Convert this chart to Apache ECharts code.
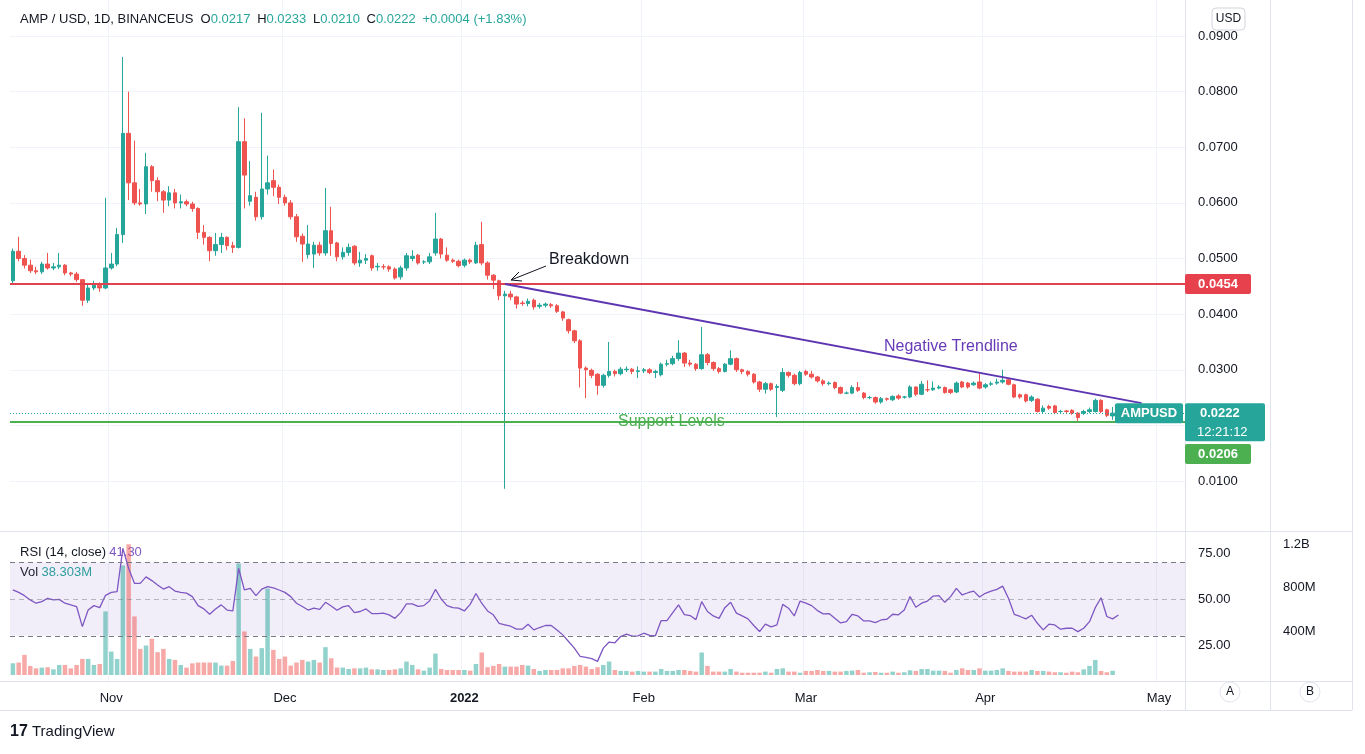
<!DOCTYPE html>
<html><head><meta charset="utf-8">
<script src="https://cdn.jsdelivr.net/npm/echarts@6/dist/echarts.min.js"></script>
<style>html,body{margin:0;padding:0;background:#fff}#c{width:1365px;height:754px}</style>
</head><body><div id="c"></div>
<script>
const OPEN=[.0460,.0513,.0500,.0488,.0478,.0476,.0490,.0483,.0485,.0488,.0474,.0472,.0462,.0425,.0447,.0452,.0447,.0483,.0490,.0543,.0725,.0636,.0600,.0598,.0665,.0640,.0620,.0605,.0618,.0600,.0602,.0598,.0590,.0547,.0538,.0514,.0525,.0538,.0523,.0520,.0710,.0603,.0610,.0575,.0625,.0640,.0628,.0610,.0600,.0575,.0540,.0507,.0508,.0524,.0510,.0550,.0528,.0503,.0511,.0522,.0492,.0497,.0505,.0485,.0485,.0485,.0481,.0467,.0483,.0500,.0506,.0494,.0494,.0510,.0535,.0506,.0497,.0495,.0488,.0497,.0492,.0525,.0492,.0470,.0460,.0433,.0436,.0431,.0420,.0419,.0425,.0414,.0416,.0417,.0415,.0404,.0390,.0370,.0352,.0303,.0299,.0292,.0272,.0290,.0297,.0293,.0300,.0301,.0297,.0298,.0300,.0295,.0291,.0310,.0311,.0320,.0330,.0312,.0310,.0302,.0327,.0313,.0302,.0297,.0310,.0320,.0300,.0297,.0292,.0278,.0265,.0275,.0268,.0263,.0295,.0290,.0275,.0297,.0292,.0287,.0280,.0275,.0277,.0268,.0258,.0258,.0268,.0258,.0250,.0250,.0242,.0248,.0246,.0253,.0251,.0251,.0269,.0256,.0264,.0264,.0267,.0268,.0264,.0260,.0278,.0276,.0273,.0278,.0269,.0274,.0276,.0278,.0282,.0273,.0255,.0255,.0245,.0247,.0225,.0234,.0235,.0225,.0226,.0227,.0222,.0222,.0225,.0225,.0245,.0228,.0217];
const CLOSE=[.0513,.0500,.0488,.0478,.0476,.0490,.0483,.0485,.0488,.0474,.0472,.0462,.0425,.0447,.0452,.0447,.0483,.0490,.0543,.0725,.0636,.0600,.0598,.0665,.0640,.0620,.0605,.0618,.0600,.0602,.0598,.0590,.0547,.0538,.0514,.0525,.0538,.0523,.0520,.0710,.0650,.0613,.0575,.0625,.0636,.0628,.0610,.0600,.0575,.0539,.0526,.0526,.0524,.0510,.0550,.0527,.0503,.0511,.0520,.0492,.0497,.0500,.0483,.0486,.0485,.0481,.0465,.0483,.0505,.0504,.0492,.0494,.0503,.0535,.0508,.0497,.0495,.0487,.0497,.0494,.0524,.0492,.0470,.0461,.0433,.0436,.0431,.0418,.0419,.0423,.0413,.0416,.0418,.0415,.0405,.0393,.0370,.0352,.0303,.0300,.0290,.0272,.0290,.0297,.0293,.0301,.0301,.0297,.0298,.0300,.0295,.0297,.0310,.0311,.0320,.0330,.0312,.0310,.0302,.0327,.0313,.0302,.0297,.0310,.0320,.0300,.0297,.0292,.0278,.0265,.0275,.0265,.0270,.0295,.0290,.0275,.0295,.0292,.0287,.0280,.0275,.0276,.0268,.0258,.0258,.0268,.0263,.0250,.0250,.0242,.0248,.0247,.0252,.0249,.0251,.0269,.0256,.0274,.0264,.0267,.0269,.0259,.0259,.0276,.0269,.0269,.0276,.0267,.0273,.0275,.0278,.0281,.0274,.0251,.0251,.0244,.0251,.0225,.0231,.0231,.0223,.0225,.0225,.0222,.0214,.0225,.0228,.0245,.0225,.0218,.0222];
const HIGH=[.0518,.0539,.0506,.0498,.0485,.0494,.0510,.0492,.0510,.0490,.0476,.0476,.0462,.0455,.0460,.0457,.0609,.0510,.0555,.0862,.0800,.0712,.0625,.0690,.0668,.0646,.0623,.0630,.0625,.0615,.0606,.0602,.0592,.0560,.0540,.0546,.0546,.0540,.0530,.0772,.0752,.0675,.0620,.0762,.0685,.0660,.0633,.0615,.0605,.0580,.0545,.0560,.0530,.0530,.0627,.0593,.0530,.0520,.0527,.0524,.0512,.0508,.0507,.0492,.0490,.0488,.0484,.0487,.0510,.0515,.0508,.0497,.0510,.0582,.0537,.0520,.0500,.0498,.0500,.0500,.0530,.0566,.0495,.0472,.0462,.0442,.0442,.0433,.0424,.0428,.0428,.0420,.0421,.0420,.0418,.0406,.0392,.0372,.0355,.0306,.0302,.0294,.0293,.0350,.0300,.0305,.0306,.0303,.0306,.0303,.0303,.0300,.0313,.0318,.0325,.0353,.0332,.0318,.0312,.0377,.0330,.0315,.0305,.0312,.0335,.0322,.0302,.0299,.0294,.0280,.0278,.0277,.0274,.0303,.0297,.0293,.0298,.0300,.0298,.0289,.0283,.0279,.0279,.0270,.0261,.0272,.0278,.0260,.0253,.0252,.0251,.0250,.0254,.0256,.0253,.0272,.0270,.0280,.0281,.0279,.0272,.0270,.0266,.0279,.0280,.0278,.0279,.0294,.0276,.0279,.0284,.0300,.0285,.0275,.0257,.0257,.0254,.0249,.0236,.0237,.0237,.0228,.0228,.0229,.0224,.0228,.0232,.0248,.0247,.0230,.0233];
const LOW=[.0456,.0495,.0482,.0474,.0472,.0472,.0480,.0479,.0481,.0470,.0468,.0458,.0415,.0420,.0443,.0440,.0445,.0480,.0486,.0528,.0605,.0596,.0595,.0580,.0620,.0603,.0582,.0594,.0590,.0590,.0594,.0584,.0535,.0525,.0495,.0505,.0510,.0515,.0510,.0518,.0590,.0595,.0568,.0570,.0615,.0612,.0598,.0595,.0570,.0530,.0494,.0500,.0483,.0505,.0505,.0505,.0495,.0498,.0505,.0488,.0485,.0490,.0478,.0478,.0480,.0476,.0462,.0462,.0478,.0495,.0489,.0490,.0490,.0505,.0500,.0494,.0492,.0484,.0484,.0490,.0490,.0488,.0462,.0445,.0425,.0086,.0425,.0410,.0415,.0414,.0408,.0410,.0412,.0411,.0402,.0388,.0365,.0348,.0268,.0249,.0285,.0255,.0268,.0286,.0288,.0290,.0296,.0292,.0285,.0294,.0292,.0285,.0288,.0306,.0308,.0316,.0305,.0306,.0298,.0300,.0308,.0298,.0293,.0295,.0308,.0296,.0292,.0288,.0275,.0260,.0257,.0262,.0215,.0260,.0286,.0272,.0272,.0289,.0284,.0277,.0271,.0272,.0265,.0256,.0256,.0256,.0260,.0247,.0247,.0239,.0239,.0244,.0244,.0246,.0248,.0249,.0253,.0254,.0260,.0262,.0265,.0257,.0256,.0258,.0267,.0266,.0271,.0265,.0266,.0271,.0273,.0275,.0272,.0249,.0248,.0241,.0242,.0223,.0222,.0228,.0220,.0222,.0222,.0219,.0208,.0219,.0222,.0223,.0222,.0215,.0210];
const VOLUME_M=[107,114,184,83,61,68,71,52,92,92,61,92,147,147,92,101,583,215,147,1004,1197,537,239,270,332,209,239,147,138,92,68,107,114,114,114,114,86,86,129,1022,399,239,169,246,792,230,147,169,86,114,138,123,138,114,255,153,68,68,55,61,61,68,52,52,46,46,52,61,123,92,52,40,68,196,55,46,46,46,46,40,101,206,71,83,101,77,77,77,92,86,55,37,46,46,46,61,61,83,
92,77,55,71,92,123,46,37,37,31,37,31,31,31,55,37,37,46,46,37,31,206,83,31,31,31,55,31,21,21,21,21,31,21,55,61,31,31,21,37,37,46,37,37,31,31,37,40,46,21,25,28,21,21,31,21,25,43,37,55,55,40,40,37,21,46,61,46,46,61,40,40,46,61,37,31,31,31,46,37,37,31,25,25,21,31,25,52,83,138,37,25,38.3];
const RSI=[55,53.6,51.8,49.5,47.7,48.6,50.4,49.5,49.8,47.7,46.8,45.9,35,44,46.4,45.3,52,53.6,54,77.5,66.6,58.5,58.5,62,60,57.6,55.4,56.7,54.3,53.6,53.2,51.3,46.4,44.6,41.7,44.6,46.8,44,43.5,66.6,54.9,55.8,51.8,55.4,56.7,56.1,54.9,53.6,51.3,47.7,45.9,44,45,44.4,48.2,46.2,43.9,45.7,46.4,42.6,43.2,44.6,42.1,42.1,42.3,41.4,39.5,42.6,47.3,47.3,46,46.4,49.1,55.2,50,46.4,45.3,45,43.5,47.1,53,47.7,43.5,41.4,36.7,36,35.2,33.6,33.6,36.3,33.2,34.5,35.6,35.6,33.2,30.5,26.9,23.3,18.8,18.3,17.6,
16.1,23.3,26.6,26.2,29.6,30.9,29.8,30,31.4,30.2,30,38.3,38.3,42.6,46.8,41.5,41,38.8,48.6,43.2,40.8,39.5,45.3,48.2,42.3,40.8,39.2,35.6,32.3,36.3,34.9,35.9,47.1,45,40.8,48.9,47.8,46.4,43.7,41.9,42.1,39.5,37,37.7,41.7,40.8,38.1,38.1,37.2,38.6,39,41.7,41.4,44,51.3,45.5,47.7,48.9,51.6,51.8,48.2,51.3,55.8,52.2,53.4,54.3,51.1,53.1,54.3,55.2,57,50.4,41.7,40.5,39.2,41.2,36.8,33.2,36.3,35.9,33.6,34.1,34.1,32.3,34.1,37.7,45.3,50.7,40.5,39.2,41.3];
const PRICE_TICKS_STEP=0.01;
const RESISTANCE=0.0454, SUPPORT=0.0206, LAST=0.0222;
const TREND=[[85,0.0454],[195,0.0240]];
const MONTHS=['Jan','Feb','Mar','Apr','May','Jun','Jul','Aug','Sep','Oct','Nov','Dec'];
const START=new Date(2021,9,15);
const NSLOTS=203;
const cats=[];for(let i=0;i<NSLOTS;i++){const d=new Date(START);d.setDate(d.getDate()+i);cats.push(d.getFullYear()+'-'+(d.getMonth()+1)+'-'+d.getDate());}
const isMonthStart=(i)=>cats[i].split('-')[2]==='1';
const candle=OPEN.map((o,i)=>[o,CLOSE[i],LOW[i],HIGH[i]]);
const UP='#26a69a',DN='#ef5350';
const vol=VOLUME_M.map((v,i)=>({value:v,itemStyle:{color:CLOSE[i]>=OPEN[i]?'rgba(38,166,154,0.5)':'rgba(239,83,80,0.5)'}}));
const F='"Liberation Sans", Arial, sans-serif';
const chart=echarts.init(document.getElementById('c'));
const L0=10,W0=1175;
const xa=(gi,show)=>({type:'category',gridIndex:gi,data:cats,boundaryGap:true,axisLine:{show:false},axisTick:{show:false},
  axisLabel:{show:show,interval:(i)=>isMonthStart(i),color:'#131722',fontFamily:F,fontSize:13,margin:10,
    formatter:(v)=>{const p=v.split('-');return p[1]==='1'?('{b|'+p[0]+'}'):MONTHS[+p[1]-1];},rich:{b:{fontWeight:'bold',fontFamily:F,fontSize:13,color:'#131722'}}},
  splitLine:{show:show,interval:(i)=>isMonthStart(i),lineStyle:{color:'#f0f3fa'}}});
chart.setOption({
  animation:false,
  grid:[{left:L0,width:W0,top:36,height:445},{left:L0,width:W0,top:553,height:92},{left:L0,width:W0,top:544,height:131},{left:L0,width:W0,top:0,height:682}],
  xAxis:[xa(0,false),xa(1,false),xa(2,false),xa(3,true)],
  yAxis:[
    {gridIndex:0,position:'right',min:0.01,max:0.09,interval:PRICE_TICKS_STEP,axisLine:{show:false},axisTick:{show:false},
     axisLabel:{color:'#131722',fontFamily:F,fontSize:13,margin:13,formatter:(v)=>v.toFixed(4)},splitLine:{lineStyle:{color:'#f0f3fa'}}},
    {gridIndex:1,position:'right',min:25,max:75,interval:25,axisLine:{show:false},axisTick:{show:false},
     axisLabel:{color:'#131722',fontFamily:F,fontSize:13,margin:13,formatter:(v)=>v.toFixed(2)},splitLine:{show:false}},
    {gridIndex:2,position:'right',offset:85,min:0,max:1200,interval:400,axisLine:{show:false},axisTick:{show:false},
     axisLabel:{color:'#131722',fontFamily:F,fontSize:13,margin:13,formatter:(v)=>v===0?'':(v>=1000?(v/1000)+'B':v+'M')},splitLine:{show:false}},
    {gridIndex:3,show:false,min:0,max:1}
  ],
  series:[
    {type:'line',xAxisIndex:3,yAxisIndex:3,data:[],silent:true},
    {type:'bar',xAxisIndex:2,yAxisIndex:2,data:vol,barWidth:4.5,silent:true},
    {type:'line',xAxisIndex:1,yAxisIndex:1,data:RSI,symbol:'none',clip:false,lineStyle:{color:'#7e57c2',width:1.3},
     markArea:{silent:true,itemStyle:{color:'rgba(126,87,194,0.1)'},data:[[{yAxis:30,x:L0},{yAxis:70,x:L0+W0}]]},
     markLine:{silent:true,symbol:'none',precision:2,label:{show:false},data:[
       {yAxis:70,lineStyle:{color:'#787b86',type:[5,4],width:1}},
       {yAxis:50,lineStyle:{color:'rgba(120,123,134,0.5)',type:[5,4],width:1}},
       {yAxis:30,lineStyle:{color:'#787b86',type:[5,4],width:1}}]}},
    {type:'candlestick',xAxisIndex:0,yAxisIndex:0,data:candle,clip:false,barWidth:4,
     itemStyle:{color:UP,color0:DN,borderColor:UP,borderColor0:DN},
     markLine:{silent:true,symbol:'none',precision:4,label:{show:false},data:[
       {yAxis:RESISTANCE,lineStyle:{color:'#e0424f',width:2,type:'solid'}},
       {yAxis:SUPPORT,lineStyle:{color:'#4caf50',width:2,type:'solid'}},
       {yAxis:LAST,lineStyle:{color:'#26a69a',width:1,type:[1,2]}},
       [{coord:TREND[0],lineStyle:{color:'#5e35b1',width:2,type:'solid'}},{coord:TREND[1]}]
     ]}}
  ]
});
const py=(v)=>chart.convertToPixel({yAxisIndex:0},v);
const box=(x,y,w,h,fill,txt)=>({type:'group',z:100,children:[{type:'rect',z:100,shape:{x:x,y:y,width:w,height:h,r:2},style:{fill:fill}},
  {type:'text',z:101,x:x+w/2,y:y+h/2,style:{text:txt,fill:'#fff',font:'bold 13px '+F,align:'center',verticalAlign:'middle'}}]});
const yr=py(RESISTANCE),ys=py(SUPPORT),yl=py(LAST);
const ln=(x1,y1,x2,y2,c)=>({type:'line',z:90,shape:{x1,y1,x2,y2},style:{stroke:c||'#e0e3eb',lineWidth:1}});
chart.setOption({graphic:[
  ln(1185.5,0,1185.5,710),ln(1270.5,0,1270.5,710),ln(1352.5,0,1352.5,710),ln(0,531.5,1352,531.5),ln(0,681.5,1352,681.5),ln(0,710.5,1352,710.5),
  {type:'text',x:20,y:19,style:{text:'{a|AMP / USD, 1D, BINANCEUS  }{a|O}{v|0.0217}  {a|H}{v|0.0233}  {a|L}{v|0.0210}  {a|C}{v|0.0222}  {v|+0.0004 (+1.83%)}',verticalAlign:'middle',
    rich:{a:{fill:'#131722',font:'13px '+F},v:{fill:'#26a69a',font:'13px '+F}}}},
  {type:'group',z:100,children:[{type:'rect',z:100,shape:{x:1212,y:8,width:33,height:22,r:4},style:{fill:'#fff',stroke:'#d1d4dc'}},
    {type:'text',z:101,x:1228.5,y:19,style:{text:'USD',fill:'#131722',font:'12px '+F,align:'center',verticalAlign:'middle'}}]},
  box(1185,yr-10,66,20,'#e8414e','0.0454'),
  box(1115,yl-10,68,20,'#26a69a','AMPUSD'),
  {type:'group',z:100,children:[{type:'rect',z:100,shape:{x:1185,y:yl-10,width:80,height:38,r:2},style:{fill:'#26a69a'}},
    {type:'text',z:101,x:1200,y:yl,style:{text:'0.0222',fill:'#fff',font:'bold 13px '+F,verticalAlign:'middle'}},
    {type:'text',z:101,x:1197,y:yl+19,style:{text:'12:21:12',fill:'#fff',font:'13px '+F,verticalAlign:'middle'}}]},
  box(1185,ys+22,66,20,'#4caf50','0.0206'),
  {type:'text',x:549,y:260,style:{text:'Breakdown',fill:'#131722',font:'16px '+F,verticalAlign:'middle'}},
  {type:'polyline',shape:{points:[[546,266],[511,280]]},style:{stroke:'#131722',lineWidth:1}},
  {type:'polyline',shape:{points:[[519,272],[511,280],[522,281]]},style:{stroke:'#131722',lineWidth:1,fill:null}},
  {type:'text',x:884,y:347,style:{text:'Negative Trendline',fill:'#673ab7',font:'16px '+F,verticalAlign:'middle'}},
  {type:'text',x:618,y:422,style:{text:'Support Levels',fill:'#4caf50',font:'16px '+F,verticalAlign:'middle'}},
  {type:'text',x:20,y:552,style:{text:'{a|RSI (14, close)} {r|41.30}',verticalAlign:'middle',rich:{a:{fill:'#131722',font:'13px '+F},r:{fill:'#7e57c2',font:'13px '+F}}}},
  {type:'text',x:20,y:572,style:{text:'{a|Vol} {v|38.303M}',verticalAlign:'middle',rich:{a:{fill:'#131722',font:'13px '+F},v:{fill:'#26a69a',font:'13px '+F}}}},
  {type:'group',children:[{type:'circle',shape:{cx:1230,cy:692,r:10},style:{fill:'#fff',stroke:'#e0e3eb'}},
    {type:'text',x:1230,y:692,style:{text:'A',fill:'#131722',font:'12px '+F,align:'center',verticalAlign:'middle'}}]},
  {type:'group',children:[{type:'circle',shape:{cx:1310,cy:692,r:10},style:{fill:'#fff',stroke:'#e0e3eb'}},
    {type:'text',x:1310,y:692,style:{text:'B',fill:'#131722',font:'12px '+F,align:'center',verticalAlign:'middle'}}]},
  {type:'text',x:10,y:732,style:{text:'17',fill:'#131722',font:'bold 16px '+F,verticalAlign:'middle'}},
  {type:'text',x:32,y:732,style:{text:'TradingView',fill:'#131722',font:'15px '+F,verticalAlign:'middle'}}
]});
</script></body></html>
